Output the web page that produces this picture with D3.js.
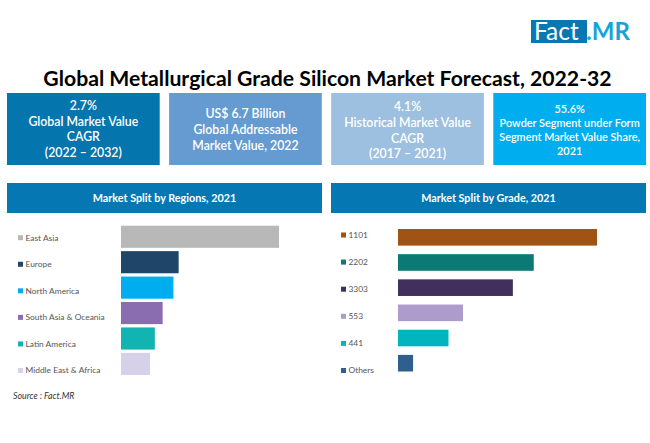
<!DOCTYPE html>
<html>
<head>
<meta charset="utf-8">
<style>
	html, body { margin: 0; padding: 0; background: #fff; }
	svg { display: block; }
	text { font-family: Lato, "Open Sans", sans-serif; }
</style>
<script src="https://cdn.jsdelivr.net/npm/d3@7"></script>
</head>
<body>
<div id="chart"></div>
<script>
var regionNames = ["East Asia", "Europe", "North America", "South Asia & Oceania", "Latin America", "Middle East & Africa"];
var regionValues = [42.5, 15.5, 14.1, 11.2, 9.1, 7.8];
var regionColours = ["#b8b8b8", "#1f4568", "#00aeef", "#8a6db1", "#12b3b3", "#d6d0e8"];

var gradeNames = ["1101", "2202", "3303", "553", "441", "Others"];
var gradeValues = [34.3, 23.4, 19.8, 11.2, 8.7, 2.6];
var gradeColours = ["#a15314", "#0b7a75", "#41305e", "#ad9ccb", "#00b5bd", "#2f5f8f"];

var cardLines = [
	["2.7%", "Global Market Value", "CAGR", "(2022 – 2032)"],
	["US$ 6.7 Billion", "Global Addressable", "Market Value, 2022"],
	["4.1%", "Historical Market Value", "CAGR", "(2017 – 2021)"],
	["55.6%", "Powder Segment under Form", "Segment Market Value Share,", "2021"]
];
var cardColours = ["#0575ae", "#659bd0", "#9dbfe0", "#00aeef"];

var svg = d3.select("#chart").append("svg")
	.attr("width", 650)
	.attr("height", 443);

// Logo
svg.append("rect")
	.attr("x", 531).attr("y", 20)
	.attr("width", 56).attr("height", 23)
	.attr("fill", "#0a78b0");
svg.append("text")
	.attr("x", 534).attr("y", 39.5)
	.attr("font-size", 24.5)
	.attr("fill", "#fff")
	.text("Fact");
svg.append("text")
	.attr("x", 586).attr("y", 39.5)
	.attr("font-size", 24)
	.attr("font-weight", 700)
	.attr("fill", "#17a3da")
	.text(".MR");

// Title
svg.append("text")
	.attr("x", 327.5).attr("y", 85.5)
	.attr("text-anchor", "middle")
	.attr("font-size", 21.2)
	.attr("font-weight", 700)
	.attr("fill", "#000")
	.text("Global Metallurgical Grade Silicon Market Forecast, 2022-32");

// Cards
var cardX = d3.scaleBand()
	.domain(d3.range(cardLines.length))
	.range([7, 646])
	.paddingInner(0.058);

var cardFirstLine = [105.5, 114, 107, 109];
var cardStep = [15.8, 15.7, 15.7, 14.2];
var cardSize = [12.3, 12.3, 12.3, 10.9];

var cards = svg.selectAll("g.card")
	.data(cardLines)
	.enter()
	.append("g")
	.attr("class", "card")
	.attr("transform", function(d, i) { return "translate(" + cardX(i) + ",93)"; });

cards.append("rect")
	.attr("width", cardX.bandwidth())
	.attr("height", 72)
	.attr("fill", function(d, i) { return cardColours[i]; });

cards.each(function(lines, i) {
	d3.select(this).selectAll("text")
		.data(lines)
		.enter()
		.append("text")
		.attr("x", cardX.bandwidth() / 2)
		.attr("y", function(d, j) { return cardFirstLine[i] - 93 + j * cardStep[i]; })
		.attr("dy", "0.35em")
		.attr("text-anchor", "middle")
		.attr("font-size", cardSize[i])
		.attr("font-weight", 600)
		.attr("fill", "#fff")
		.text(function(d) { return d; });
});

function barPanel(config) {
	var g = svg.append("g");

	g.append("rect")
		.attr("x", config.left).attr("y", 183)
		.attr("width", config.width).attr("height", 30)
		.attr("fill", "#0578b4");

	g.append("text")
		.attr("x", config.left + config.width / 2).attr("y", 198)
		.attr("dy", "0.35em")
		.attr("text-anchor", "middle")
		.attr("font-size", 10.8)
		.attr("font-weight", 700)
		.attr("fill", "#fff")
		.text(config.title);

	var x = d3.scaleLinear()
		.domain([0, d3.max(config.values)])
		.range(config.xRange);

	var y = d3.scaleBand()
		.domain(config.names)
		.range(config.yRange)
		.paddingInner(config.gap);

	var legendY = d3.scalePoint()
		.domain(config.names)
		.range(config.legendRange);

	g.selectAll("rect.bar")
		.data(config.values)
		.enter()
		.append("rect")
		.attr("class", "bar")
		.attr("x", x(0))
		.attr("y", function(d, i) { return y(config.names[i]); })
		.attr("width", function(d) { return x(d) - x(0); })
		.attr("height", y.bandwidth())
		.attr("fill", function(d, i) { return config.colours[i]; });

	g.selectAll("rect.key")
		.data(config.names)
		.enter()
		.append("rect")
		.attr("class", "key")
		.attr("x", config.keyX)
		.attr("y", function(d) { return legendY(d) - 2.5; })
		.attr("width", 5).attr("height", 5)
		.attr("fill", function(d, i) { return config.colours[i]; });

	g.selectAll("text.label")
		.data(config.names)
		.enter()
		.append("text")
		.attr("class", "label")
		.attr("x", config.keyX + 7.5)
		.attr("y", function(d) { return legendY(d); })
		.attr("dy", "0.35em")
		.attr("font-size", 8.4)
		.attr("fill", "#555")
		.text(function(d) { return d; });
}

barPanel({
	title: "Market Split by Regions, 2021",
	left: 7, width: 315,
	names: regionNames, values: regionValues, colours: regionColours,
	xRange: [121, 279], yRange: [225.7, 375], gap: 0.13,
	legendRange: [237.7, 370.5], keyX: 18
});

barPanel({
	title: "Market Split by Grade, 2021",
	left: 331, width: 315,
	names: gradeNames, values: gradeValues, colours: gradeColours,
	xRange: [398, 597], yRange: [229, 371.5], gap: 0.34,
	legendRange: [235, 370.5], keyX: 341
});

// Source
svg.append("text")
	.attr("x", 13).attr("y", 399)
	.attr("font-size", 8.8)
	.attr("font-style", "italic")
	.attr("fill", "#333")
	.text("Source : Fact.MR");
</script>
</body>
</html>
